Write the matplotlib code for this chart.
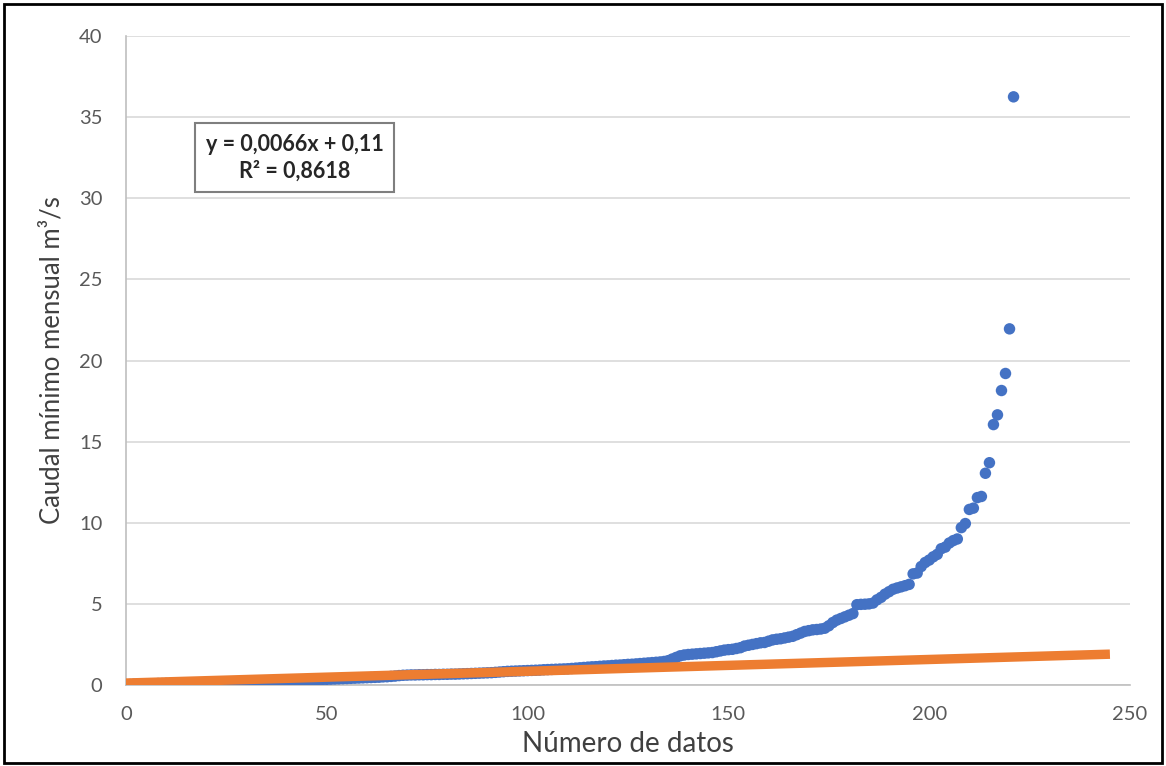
import numpy as np
import matplotlib.pyplot as plt
from matplotlib.patches import Rectangle

# caudal minimo mensual ordenado (m3/s), numero de datos 1..222
caudal = [
    0.03, 0.05, 0.06, 0.07, 0.07, 0.08, 0.08, 0.09, 0.09, 0.10,
    0.10, 0.11, 0.11, 0.12, 0.12, 0.12, 0.13, 0.13, 0.14, 0.14,
    0.15, 0.15, 0.16, 0.16, 0.17, 0.17, 0.18, 0.18, 0.19, 0.19,
    0.20, 0.21, 0.21, 0.22, 0.23, 0.23, 0.24, 0.25, 0.26, 0.26,
    0.27, 0.28, 0.29, 0.29, 0.30, 0.31, 0.32, 0.33, 0.34, 0.35,
    0.36, 0.37, 0.38, 0.39, 0.40, 0.41, 0.42, 0.43, 0.44, 0.45,
    0.46, 0.47, 0.48, 0.50, 0.51, 0.53, 0.55, 0.58, 0.60, 0.61,
    0.62, 0.62, 0.63, 0.63, 0.64, 0.64, 0.65, 0.65, 0.66, 0.66,
    0.67, 0.67, 0.68, 0.69, 0.70, 0.71, 0.72, 0.73, 0.74, 0.75,
    0.76, 0.78, 0.80, 0.82, 0.84, 0.85, 0.86, 0.87, 0.88, 0.89,
    0.90, 0.91, 0.92, 0.94, 0.95, 0.96, 0.97, 0.98, 0.99, 1.00,
    1.02, 1.04, 1.06, 1.08, 1.10, 1.12, 1.13, 1.15, 1.17, 1.18,
    1.20, 1.22, 1.23, 1.25, 1.27, 1.28, 1.30, 1.32, 1.34, 1.36,
    1.38, 1.40, 1.42, 1.45, 1.50, 1.60, 1.70, 1.80, 1.85, 1.88,
    1.90, 1.92, 1.94, 1.96, 1.98, 2.00, 2.05, 2.10, 2.15, 2.18,
    2.20, 2.25, 2.30, 2.40, 2.45, 2.50, 2.55, 2.60, 2.62, 2.70,
    2.78, 2.82, 2.85, 2.90, 2.95, 3.00, 3.10, 3.20, 3.30, 3.35,
    3.40, 3.42, 3.45, 3.50, 3.65, 3.85, 4.00, 4.10, 4.20, 4.30,
    4.40, 4.95, 4.97, 4.98, 5.00, 5.05, 5.25, 5.40, 5.60, 5.75,
    5.90, 5.98, 6.05, 6.12, 6.20, 6.85, 6.90, 7.30, 7.55, 7.70,
    7.90, 8.05, 8.40, 8.50, 8.75, 8.90, 9.00, 9.70, 9.95, 10.82,
    10.90, 11.55, 11.62, 13.05, 13.70, 16.05, 16.65, 18.15, 19.20, 21.95,
    36.25,
]
numero = list(range(1, len(caudal) + 1))

# linea de tendencia (extendida hacia adelante)
tend_x = [0, 245]
tend_y = [0.12, 1.90]
ecuacion = "y = 0,0066x + 0,11\nR² = 0,8618"

plt.rcParams['font.family'] = ['Lato', 'DejaVu Sans']

fig = plt.figure(figsize=(11.66, 7.66), dpi=100)
ax = fig.add_axes([126/1166, 1 - 685/766, (1130-126)/1166, (685-36)/766])

ax.scatter(numero, caudal, s=68, color='#4472C4', edgecolors='none', zorder=3)
ax.plot(tend_x, tend_y, color='#ED7D31', lw=6.8, solid_capstyle='butt', zorder=4)

ax.set_xlim(0, 250)
ax.set_ylim(0, 40)
ax.set_xticks(range(0, 251, 50))
ax.set_yticks(range(0, 41, 5))
ax.grid(axis='y', color='#d9d9d9', lw=1.2)
ax.set_axisbelow(True)
for s in ['top', 'right']:
    ax.spines[s].set_visible(False)
for s in ['left', 'bottom']:
    ax.spines[s].set_color('#bfbfbf')
    ax.spines[s].set_linewidth(1.2)
ax.tick_params(length=0, labelsize=14.5, labelcolor='#595959')
ax.tick_params(axis='x', pad=15)
ax.tick_params(axis='y', pad=17)

ax.set_xlabel('Número de datos', fontsize=20, color='#404040', labelpad=6)
ax.set_ylabel('Caudal mínimo mensual m³/s', fontsize=18.5, color='#404040', labelpad=10)

ax.text(42, 32.5, ecuacion, ha='center', va='center', fontsize=15.5,
        fontweight='bold', color='#262626', linespacing=1.3,
        bbox=dict(boxstyle='square,pad=0.5', fc='white', ec='#7f7f7f', lw=1.5),
        zorder=5)

fig.patches.append(Rectangle((4/1166, 3/766), 1158/1166, 759/766, transform=fig.transFigure,
                             fill=False, ec='black', lw=2))

fig.savefig('out.png', dpi=100)
